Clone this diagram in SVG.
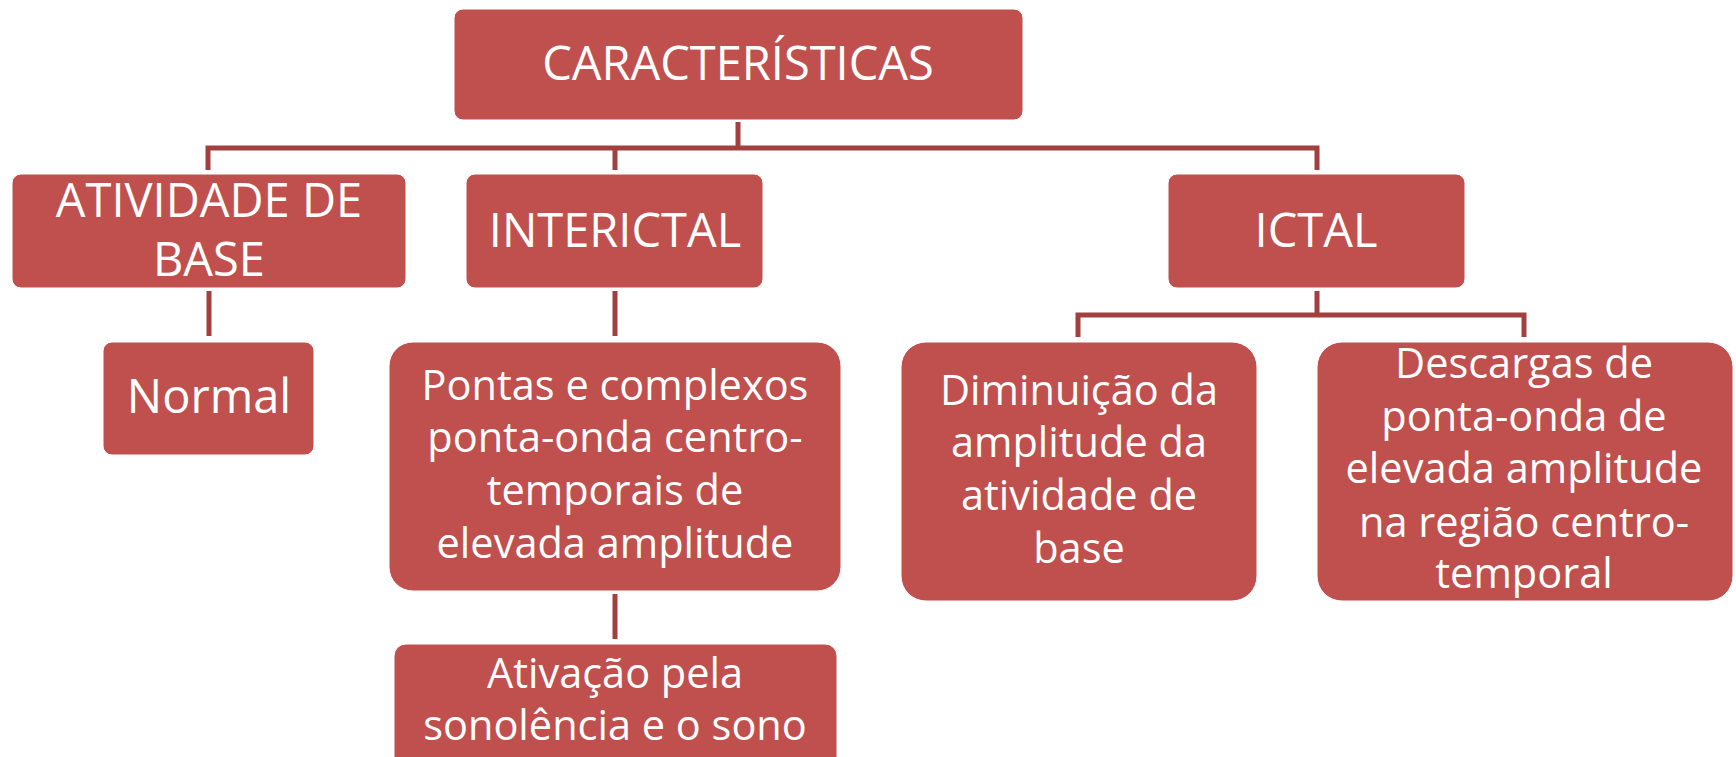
<svg xmlns="http://www.w3.org/2000/svg" width="1736" height="757" viewBox="0 0 1736 757">
<style>
.box{fill:#C0504D;stroke:#ffffff;stroke-width:1}
.conn{fill:none;stroke:#A1403E;stroke-width:5;stroke-linejoin:miter}
.t{font-family:"Open Sans","Noto Sans",sans-serif;fill:#ffffff;text-anchor:middle}
.big{font-size:47px}
.sm{font-size:41.5px}
</style>
<rect width="1736" height="757" fill="#ffffff"/>
<g id="connectors">
<path class="conn" d="M738,122 V148 M208,170 V148 H1317 V170"/>
<path class="conn" d="M615,148 V170"/>
<path class="conn" d="M209,291 V336"/>
<path class="conn" d="M615,291 V336"/>
<path class="conn" d="M615,594 V639"/>
<path class="conn" d="M1317,291 V315 M1078,337 V315 H1524 V337"/>
</g>
<g id="n-caracteristicas">
<rect class="box" x="454" y="9" width="569" height="111" rx="9"/>
<text class="t big" x="738" y="80">CARACTERÍSTICAS</text>
</g>
<g id="n-atividade">
<rect class="box" x="12" y="174" width="394" height="114" rx="9"/>
<text class="t big" x="209" y="217">ATIVIDADE DE</text>
<text class="t big" x="209" y="276">BASE</text>
</g>
<g id="n-interictal">
<rect class="box" x="466" y="174" width="297" height="114" rx="9"/>
<text class="t big" x="615" y="247">INTERICTAL</text>
</g>
<g id="n-ictal">
<rect class="box" x="1168" y="174" width="297" height="114" rx="9"/>
<text class="t big" x="1316" y="247">ICTAL</text>
</g>
<g id="n-normal">
<rect class="box" x="103" y="342" width="211" height="113" rx="9"/>
<text class="t big" x="209" y="413">Normal</text>
</g>
<g id="n-pontas">
<rect class="box" x="389" y="342" width="452" height="249" rx="24"/>
<text class="t sm" x="615" y="400">Pontas e complexos</text>
<text class="t sm" x="615" y="452">ponta-onda centro-</text>
<text class="t sm" x="615" y="505">temporais de</text>
<text class="t sm" x="615" y="558">elevada amplitude</text>
</g>
<g id="n-ativacao">
<rect class="box" x="394" y="644" width="443" height="130" rx="12"/>
<text class="t sm" x="615" y="688">Ativação pela</text>
<text class="t sm" x="615" y="740">sonolência e o sono</text>
</g>
<g id="n-diminuicao">
<rect class="box" x="901" y="342" width="356" height="259" rx="25"/>
<text class="t sm" x="1079" y="405">Diminuição da</text>
<text class="t sm" x="1079" y="457">amplitude da</text>
<text class="t sm" x="1079" y="510">atividade de</text>
<text class="t sm" x="1079" y="563">base</text>
</g>
<g id="n-descargas">
<rect class="box" x="1317" y="342" width="416" height="259" rx="25"/>
<text class="t sm" x="1524" y="378">Descargas de</text>
<text class="t sm" x="1524" y="431">ponta-onda de</text>
<text class="t sm" x="1524" y="483">elevada amplitude</text>
<text class="t sm" x="1524" y="537">na região centro-</text>
<text class="t sm" x="1524" y="588">temporal</text>
</g>
</svg>
